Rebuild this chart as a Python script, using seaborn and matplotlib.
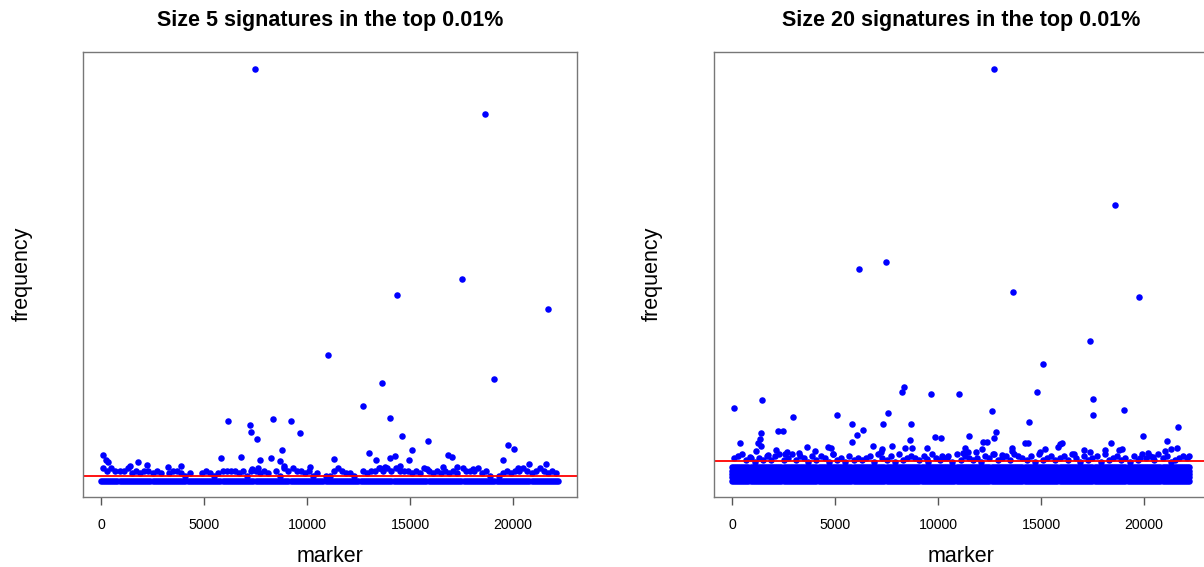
import numpy as np
import pandas as pd
import matplotlib
matplotlib.use("Agg")
import matplotlib.pyplot as plt
import seaborn as sns

# x tick labels / limits
xticks = [0, 5000, 10000, 15000, 20000]
n_markers = 22200

# isolated points (marker, frequency)
left_marker = [7461, 18626, 17524, 14384, 21714, 11019, 13641, 19063, 12704, 14029,
               14597, 15888, 15083, 13010, 19757, 20063, 16859, 17053, 6150, 7233,
               7267, 7587, 8335, 9209, 9646, 8772, 112, 243, 354, 1796,
               6811, 5811, 8252, 8689, 7733, 11325, 13350, 14029, 14286, 14951,
               20762, 19515, 20243, 21587, 3883, 3238, 1408, 2218, 10146, 7340,
               7636, 8883, 13544, 13786, 14515, 15811, 16617, 17267, 17587, 18073]
left_freq = [100.0, 89.1, 48.9, 45.0, 41.7, 30.4, 23.6, 24.7, 18.1, 15.2,
             10.7, 9.5, 7.5, 6.6, 8.6, 7.7, 6.3, 5.7, 14.4, 13.4,
             11.8, 10.0, 15.0, 14.4, 11.5, 7.4, 6.3, 4.9, 4.5, 4.5,
             5.7, 5.4, 5.4, 4.8, 4.9, 5.2, 5.0, 5.5, 5.9, 4.9,
             4.1, 4.9, 3.0, 3.9, 3.6, 3.4, 3.6, 3.8, 3.2, 2.8,
             3.1, 3.6, 3.1, 3.4, 3.6, 2.9, 3.4, 3.2, 3.1, 2.7]

right_marker = [12718, 18607, 6150, 7461, 13640, 19757, 17363, 15097, 8237, 8364,
                9645, 11004, 14790, 97, 1440, 17523, 17523, 19042, 12606, 7587,
                5081, 2946, 14431, 21649, 7345, 8704, 5825, 6053, 6344, 5810,
                1422, 1344, 1277, 1393, 2248, 2461, 403, 8640, 7752, 9868,
                10159, 11489, 12703, 12815, 12198, 12360, 15921, 16018, 19951, 21100,
                18413, 14237, 14383, 6844, 3641, 4675, 4791, 1180, 2121, 2670,
                2587, 3238, 4029, 4888, 7296, 7233, 8383, 8752, 9480, 10208,
                10451, 11198, 11470, 11327, 11844, 12121, 12653, 13106, 13606, 13574,
                14951, 15194, 15840, 16601, 17087, 17378, 18106, 18786, 18916, 20178,
                21033, 21294, 21600, 22198, 874, 1762, 9451, 19805, 20451]
right_freq = [100.0, 67.0, 51.5, 53.1, 45.9, 44.5, 33.9, 28.3, 21.5, 22.8,
              21.0, 20.9, 21.5, 17.6, 19.6, 19.8, 15.8, 17.1, 16.8, 16.3,
              15.9, 15.5, 14.1, 13.0, 13.7, 13.7, 13.7, 11.0, 12.3, 9.3,
              11.5, 10.2, 9.1, 8.4, 12.0, 12.0, 9.2, 9.9, 8.5, 10.5,
              10.3, 10.7, 10.4, 11.7, 9.4, 9.3, 8.9, 9.2, 10.8, 9.7,
              9.2, 9.2, 9.2, 8.4, 8.2, 8.1, 8.0, 7.2, 7.5, 6.9,
              6.5, 6.7, 7.1, 6.5, 7.6, 6.9, 8.0, 8.0, 7.9, 6.0,
              5.4, 6.7, 6.9, 8.0, 6.9, 7.6, 6.4, 6.3, 7.9, 7.2,
              6.9, 7.7, 8.2, 6.4, 7.5, 6.9, 7.5, 7.5, 7.6, 6.7,
              7.2, 7.7, 7.9, 6.0, 5.7, 6.3, 5.3, 5.4, 5.6]

# dense band at the bottom: solid rows plus the ragged top edge per 200-marker block
left_band_levels = [0.0]
right_band_levels = [0.0, 0.8, 1.6, 2.4, 3.2]
left_edge = ("5454445343" "4434303443" "2300343234" "4443424434" "3042545443"
             "4230224543" "3204344545" "4544434354" "3434343044" "4534202343"
             "44543454343")
right_edge = ("5674535464" "6745746536" "4653745364" "5456375463" "7456546375"
              "4563746545" "3657456476" "5463745645" "6475364563" "7456453647"
              "56475634565")
left_cutoff = 1.05
right_cutoff = 4.8

titles = ["Size 5 signatures in the top 0.01%", "Size 20 signatures in the top 0.01%"]


def build(markers, freqs, levels, edge, step, base):
    rows = []
    band_x = np.arange(0, n_markers + 1, 100)
    for lv in levels:
        rows.append(pd.DataFrame({"marker": band_x, "frequency": lv}))
    ex = [i * 200 + 100 for i, c in enumerate(edge) if c != "0"]
    ey = [base + int(c) * step for c in edge if c != "0"]
    rows.append(pd.DataFrame({"marker": ex, "frequency": ey}))
    rows.append(pd.DataFrame({"marker": markers, "frequency": freqs}))
    return pd.concat(rows, ignore_index=True)


df_left = build(left_marker, left_freq, left_band_levels, left_edge, 0.6, 0.0)
df_right = build(right_marker, right_freq, right_band_levels, right_edge, 0.45, 3.2)

sns.set_style("white")
plt.rcParams["font.family"] = ["Liberation Sans", "DejaVu Sans"]
plt.rcParams["text.color"] = "black"

fig = plt.figure(figsize=(12.04, 5.67), dpi=100)
ax1 = fig.add_axes([83 / 1204, 70 / 567, 494 / 1204, 445 / 567])
ax2 = fig.add_axes([714 / 1204, 70 / 567, 494 / 1204, 445 / 567])

for ax, df, cut, title, xc in [(ax1, df_left, left_cutoff, titles[0], 330),
                               (ax2, df_right, right_cutoff, titles[1], 961)]:
    sns.scatterplot(data=df, x="marker", y="frequency", ax=ax, color="#0000FF",
                    s=22, linewidth=0, legend=False)
    ax.axhline(cut, color="#FF0000", lw=1.3)
    ax.set_xlim(-874, 23107)
    ax.set_ylim(-4, 104.1)
    ax.set_xticks(xticks)
    ax.set_xticklabels([str(t) for t in xticks])
    ax.set_yticks([])
    ax.set_xlabel("")
    ax.set_ylabel("")
    ax.tick_params(axis="x", direction="out", length=6, width=1, color="#555555",
                   pad=9, labelsize=10.2, labelcolor="black", bottom=True)
    for sp in ax.spines.values():
        sp.set_visible(True)
        sp.set_color("#777777")
        sp.set_linewidth(1.0)
    fig.text(xc / 1204, 1 - 26 / 567, title, ha="center", va="baseline",
             fontsize=15.5, fontweight="bold", color="black")
    fig.text(xc / 1204, 1 - 562 / 567, "marker", ha="center", va="baseline",
             fontsize=15.5, color="black")

fig.text(22 / 1204, 1 - 274 / 567, "frequency", rotation=90, ha="center",
         va="center", fontsize=15.5, color="black")
fig.text(652 / 1204, 1 - 274 / 567, "frequency", rotation=90, ha="center",
         va="center", fontsize=15.5, color="black")

fig.savefig("out.png", dpi=100)
